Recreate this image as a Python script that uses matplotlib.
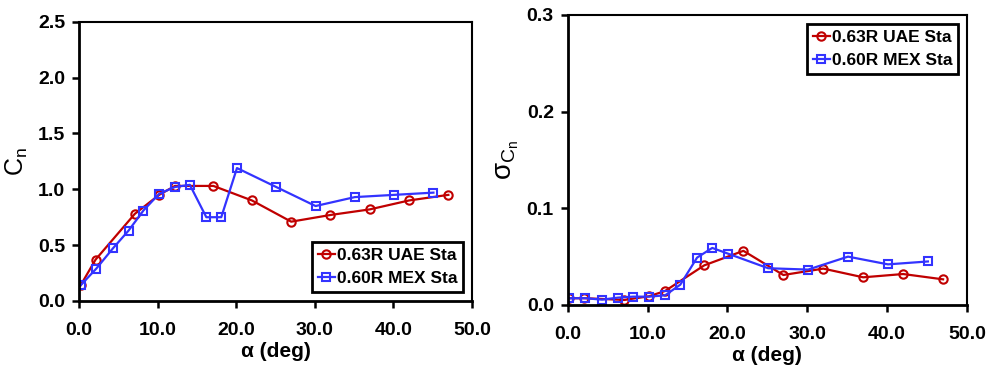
import numpy as np
import matplotlib
matplotlib.use('Agg')
import matplotlib.pyplot as plt

plt.rcParams['font.family'] = ['Liberation Sans', 'DejaVu Sans']
plt.rcParams['font.weight'] = 'bold'
plt.rcParams['mathtext.fontset'] = 'custom'
plt.rcParams['mathtext.rm'] = 'Liberation Sans'
plt.rcParams['mathtext.it'] = 'Liberation Sans'

# === Data ===
uae_alpha = [0.2, 2.1, 7.1, 10.2, 12.2, 17.1, 22.0, 27.0, 32.0, 37.0, 42.0, 47.0]
uae_cn = [0.14, 0.37, 0.78, 0.95, 1.03, 1.03, 0.90, 0.71, 0.77, 0.82, 0.90, 0.95]
uae_sigma = [0.007, 0.007, 0.0052, 0.009, 0.0145, 0.041, 0.056, 0.031, 0.0376, 0.0286, 0.032, 0.0265]

mex_alpha = [0.2, 2.2, 4.3, 6.3, 8.2, 10.2, 12.2, 14.1, 16.2, 18.1, 20.1, 25.1, 30.1, 35.1, 40.1, 45.1]
mex_cn = [0.14, 0.29, 0.47, 0.63, 0.81, 0.96, 1.02, 1.04, 0.75, 0.75, 1.19, 1.02, 0.85, 0.93, 0.95, 0.97]
mex_sigma = [0.0069, 0.007, 0.0055, 0.0076, 0.0086, 0.0086, 0.010, 0.021, 0.049, 0.059, 0.053,
             0.038, 0.0366, 0.050, 0.042, 0.045]

uae_label = "0.63R UAE Sta"
mex_label = "0.60R MEX Sta"
RED = '#C00000'
BLUE = '#3333FF'

fig = plt.figure(figsize=(9.89, 3.71), dpi=100)
ax1 = fig.add_axes([0.0799, 0.1887, 0.3973, 0.7528])
ax2 = fig.add_axes([0.574, 0.178, 0.4038, 0.7816])


def style(ax, ylim, yticks, loc):
    ax.set_xlim(0, 50)
    ax.set_ylim(*ylim)
    ax.set_xticks(np.arange(0, 51, 10))
    ax.set_xticklabels([f"{v:.1f}" for v in np.arange(0, 51, 10)])
    ax.set_yticks(yticks)
    ax.set_yticklabels([f"{v:.1f}" for v in yticks])
    ax.tick_params(direction='out', length=5, width=1.8, labelsize=14)
    ax.tick_params(axis='x', pad=10)
    ax.tick_params(axis='y', pad=5)
    for s in ['left', 'bottom']:
        ax.spines[s].set_linewidth(2.0)
    for s in ['top', 'right']:
        ax.spines[s].set_linewidth(1.5)
    ax.set_xlabel("α (deg)", fontsize=15, fontweight='bold', labelpad=2)
    leg = ax.legend(handlelength=1.0, handletextpad=0.1, fontsize=12.5, fancybox=False,
                    framealpha=1, edgecolor='black', borderpad=0.35, labelspacing=0.45,
                    borderaxespad=0.5, loc=loc)
    leg.get_frame().set_linewidth(2.0)


for ax, uy, my in [(ax1, uae_cn, mex_cn), (ax2, uae_sigma, mex_sigma)]:
    ax.plot(uae_alpha, uy, '-o', color=RED, lw=1.6, ms=6, mfc='none', mew=1.5, label=uae_label)
    ax.plot(mex_alpha, my, '-s', color=BLUE, lw=1.6, ms=6, mfc='none', mew=1.5, label=mex_label)

style(ax1, (0, 2.5), np.arange(0, 2.51, 0.5), 'lower right')
style(ax2, (0, 0.3), np.arange(0, 0.31, 0.1), 'upper right')

ax1.set_ylabel(r"$\mathregular{C_n}$", fontsize=18, fontweight='normal', labelpad=6)
ax2.set_ylabel(r"$\mathregular{\sigma_{C_n}}$", fontsize=20, fontweight='normal', labelpad=4)

plt.savefig('out.png', dpi=100)
